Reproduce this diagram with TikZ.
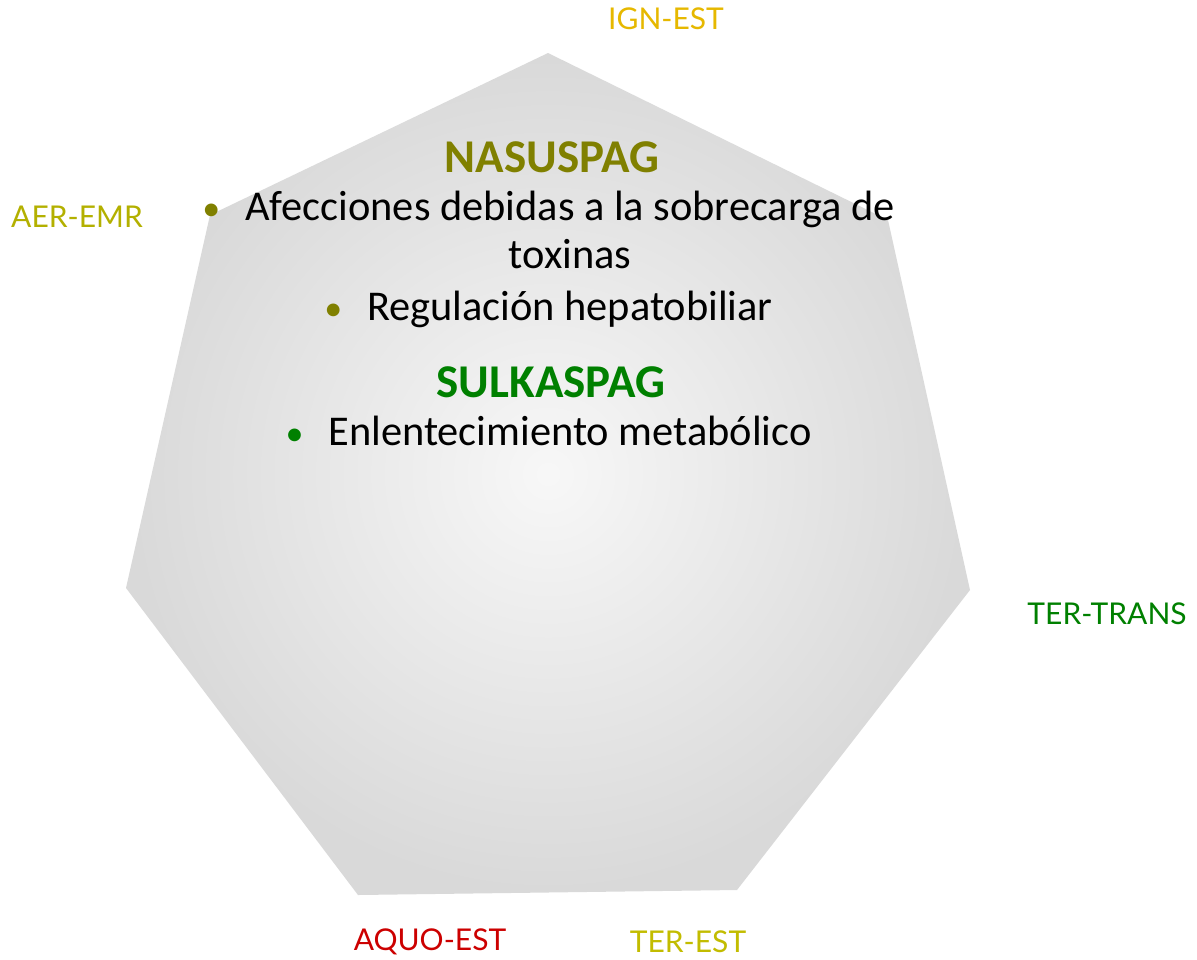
\documentclass[tikz,border=0pt]{standalone}
\usepackage{fontspec}
\setmainfont{Carlito}
\newfontfamily\lblfont{Lato}
\usepackage{xcolor}
\usetikzlibrary{positioning}
\definecolor{ignGold}{HTML}{E6B800}
\definecolor{aerOlive}{HTML}{B3B000}
\definecolor{terGreen}{HTML}{008000}
\definecolor{aquoRed}{HTML}{CC0000}
\definecolor{terYellow}{HTML}{C2BC00}
\definecolor{nasOlive}{HTML}{808000}
\definecolor{sulGreen}{HTML}{008000}

\begin{document}
\begin{tikzpicture}[
    x=0.5pt, y=-0.5pt,
    corner_lbl/.style={font=\lblfont\fontsize{15}{18}\selectfont, inner sep=0pt},
    head_txt/.style={font=\bfseries\fontsize{23.5}{28}\selectfont, inner sep=0pt, anchor=base},
    item_txt/.style={font=\fontsize{21.2}{25}\selectfont, inner sep=0pt, anchor=base, text=black},
    dot_mark/.style={font=\fontsize{18}{21}\selectfont, inner sep=0pt}
]
\useasboundingbox (0,0) rectangle (1197,959);

\coordinate (v1) at (548,53);
\coordinate (v2) at (888,220);
\coordinate (v3) at (970,590);
\coordinate (v4) at (737,890);
\coordinate (v5) at (358,895);
\coordinate (v6) at (126,588);
\coordinate (v7) at (210,215);
\shade[inner color=gray!6, outer color=gray!30]
    (v1) -- (v2) -- (v3) -- (v4) -- (v5) -- (v6) -- (v7) -- cycle;

\node (ign)   [corner_lbl, text=ignGold]   at (666,19)   {IGN-EST};
\node (aer)   [corner_lbl, text=aerOlive]  at (77,217)   {AER-EMR};
\node (trans) [corner_lbl, text=terGreen]  at (1107,614) {TER-TRANS};
\node (aquo)  [corner_lbl, text=aquoRed]   at (430,942)  {AQUO-EST};
\node (test)  [corner_lbl, text=terYellow] at (688,942)  {TER-EST};

\node (nas)   [head_txt, text=nasOlive] at (552,172) {NASUSPAG};
\node (afec)  [item_txt] at (570,220) {Afecciones debidas a la sobrecarga de};
\node (toxi)  [item_txt] at (570,268) {toxinas};
\node (regu)  [item_txt] at (570,320) {Regulación hepatobiliar};
\node (sul)   [head_txt, text=sulGreen] at (551,397) {SULKASPAG};
\node (enle)  [item_txt] at (570,445) {Enlentecimiento metabólico};

\node (b1) [dot_mark, text=nasOlive, base left=12pt of afec] {\textbullet};
\node (b2) [dot_mark, text=nasOlive, base left=12pt of regu] {\textbullet};
\node (b3) [dot_mark, text=sulGreen, base left=12pt of enle] {\textbullet};

\end{tikzpicture}
\end{document}
